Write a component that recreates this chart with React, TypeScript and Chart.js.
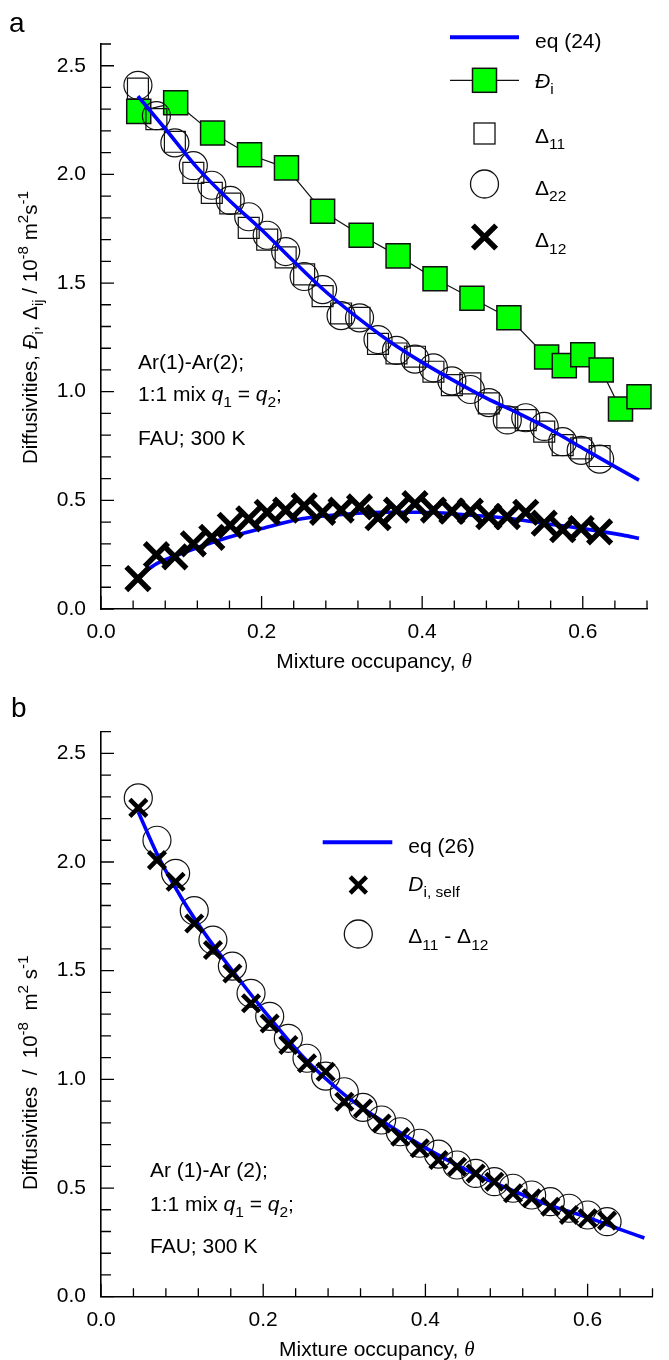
import React, { useEffect, useRef } from "react";
import { Chart, registerables } from "chart.js";

Chart.register(...registerables);

const SANS = '"Liberation Sans", Arial, Helvetica, sans-serif';
const SERIF = '"Liberation Serif", "Times New Roman", serif';
const BLUE = "#0000ff";
const GREEN = "#00ff00";
const INK = "#111111";

// ---------------- panel a ----------------
const THETA_A = [0.046, 0.069, 0.092, 0.115, 0.138, 0.161, 0.184, 0.207, 0.23, 0.253, 0.276, 0.299, 0.322, 0.345, 0.368, 0.391, 0.414, 0.437, 0.46, 0.483, 0.506, 0.529, 0.552, 0.575, 0.598, 0.621];
const DELTA11 = [2.395, 2.254, 2.15, 2.007, 1.915, 1.866, 1.754, 1.7, 1.618, 1.54, 1.44, 1.36, 1.34, 1.22, 1.176, 1.161, 1.092, 1.03, 1.038, 0.946, 0.882, 0.869, 0.816, 0.754, 0.739, 0.704];
const DELTA22 = [2.41, 2.27, 2.145, 2.04, 1.95, 1.88, 1.805, 1.72, 1.645, 1.53, 1.47, 1.35, 1.34, 1.24, 1.19, 1.15, 1.11, 1.05, 1.01, 0.95, 0.87, 0.88, 0.84, 0.77, 0.73, 0.69];
const DELTA12 = [0.14, 0.25, 0.24, 0.3, 0.33, 0.385, 0.415, 0.445, 0.455, 0.475, 0.445, 0.455, 0.47, 0.42, 0.455, 0.485, 0.455, 0.45, 0.45, 0.425, 0.425, 0.445, 0.395, 0.365, 0.37, 0.355];
const MS_THETA = [0.047, 0.093, 0.139, 0.185, 0.231, 0.276, 0.324, 0.37, 0.416, 0.462, 0.508, 0.555, 0.577, 0.6, 0.623, 0.647, 0.67];
const MS_DIFF = [2.29, 2.33, 2.19, 2.09, 2.03, 1.83, 1.72, 1.625, 1.52, 1.43, 1.34, 1.16, 1.12, 1.17, 1.1, 0.92, 0.977];
const EQ24_THETA = [0.046, 0.08, 0.12, 0.16, 0.2, 0.24, 0.28, 0.32, 0.36, 0.4, 0.44, 0.48, 0.52, 0.56, 0.6, 0.64, 0.67];
const EQ24_DII = [2.36, 2.21, 2.03, 1.88, 1.745, 1.6, 1.46, 1.34, 1.23, 1.135, 1.05, 0.97, 0.9, 0.825, 0.74, 0.655, 0.593];
const EQ24_D12_THETA = [0.047, 0.07, 0.1, 0.15, 0.2, 0.25, 0.3, 0.35, 0.4, 0.45, 0.5, 0.55, 0.6, 0.65, 0.67];
const EQ24_D12 = [0.15, 0.21, 0.255, 0.32, 0.37, 0.415, 0.435, 0.445, 0.445, 0.435, 0.42, 0.395, 0.37, 0.34, 0.325];

// ---------------- panel b ----------------
const THETA_B = [0.046, 0.069, 0.092, 0.115, 0.138, 0.162, 0.185, 0.208, 0.231, 0.254, 0.277, 0.3, 0.323, 0.346, 0.369, 0.393, 0.416, 0.439, 0.462, 0.485, 0.508, 0.531, 0.554, 0.577, 0.6, 0.624];
const DSELF = [2.249, 2.009, 1.909, 1.717, 1.595, 1.487, 1.35, 1.257, 1.158, 1.074, 1.035, 0.897, 0.866, 0.797, 0.736, 0.683, 0.629, 0.598, 0.567, 0.529, 0.476, 0.453, 0.414, 0.376, 0.361, 0.35];
const D11_MINUS_D12 = [2.295, 2.1, 1.948, 1.776, 1.641, 1.521, 1.396, 1.29, 1.189, 1.097, 1.015, 0.943, 0.871, 0.813, 0.759, 0.706, 0.656, 0.606, 0.567, 0.529, 0.499, 0.468, 0.437, 0.407, 0.376, 0.345];
const EQ26_THETA = [0.046, 0.07, 0.1, 0.13, 0.16, 0.2, 0.25, 0.3, 0.35, 0.4, 0.45, 0.5, 0.55, 0.6, 0.64, 0.67];
const EQ26_D = [2.23, 2.03, 1.83, 1.66, 1.51, 1.32, 1.1, 0.93, 0.8, 0.685, 0.585, 0.5, 0.425, 0.365, 0.31, 0.27];

// ---------------- axes ----------------
const X_LABELS = [0, 0.2, 0.4, 0.6];
const Y_LABELS = [0, 0.5, 1.0, 1.5, 2.0, 2.5];
const X_MAX = 0.68;
const Y_MAX = 2.6;

type Seg = { t: string; it?: boolean; sub?: boolean; sup?: boolean; serif?: boolean };

const pts = (xs: number[], ys: number[]) => xs.map((x, i) => ({ x, y: ys[i] }));

function drawRich(ctx: CanvasRenderingContext2D, segs: Seg[], x: number, y: number, size: number, align: "left" | "center" = "left") {
  const items = segs.map((s) => {
    const fs = s.sub || s.sup ? size * 0.74 : size;
    const font = `${s.it ? "italic " : ""}${fs}px ${s.serif ? SERIF : SANS}`;
    ctx.font = font;
    return { s, font, w: ctx.measureText(s.t).width, dy: s.sub ? size * 0.3 : s.sup ? -size * 0.42 : 0 };
  });
  const total = items.reduce((a, b) => a + b.w, 0);
  let cx = align === "center" ? x - total / 2 : x;
  ctx.textAlign = "left";
  ctx.textBaseline = "alphabetic";
  ctx.fillStyle = "#000";
  for (const it of items) {
    ctx.font = it.font;
    ctx.fillText(it.s.t, cx, y + it.dy);
    cx += it.w;
  }
}

function drawX(ctx: CanvasRenderingContext2D, x: number, y: number, r: number, w: number) {
  const o = r * Math.SQRT1_2;
  ctx.save();
  ctx.strokeStyle = "#000";
  ctx.lineWidth = w;
  ctx.beginPath();
  ctx.moveTo(x - o, y - o);
  ctx.lineTo(x + o, y + o);
  ctx.moveTo(x - o, y + o);
  ctx.lineTo(x + o, y - o);
  ctx.stroke();
  ctx.restore();
}

function drawTicks(chart: any) {
  const { ctx, chartArea } = chart;
  const xs = chart.scales.x;
  const ys = chart.scales.y;
  ctx.save();
  ctx.strokeStyle = "#000";
  ctx.lineWidth = 1.3;
  ctx.beginPath();
  for (let i = 0; i <= 17; i++) {
    const px = xs.getPixelForValue(i * 0.04);
    const len = i % 5 === 0 ? 13 : 8.5;
    ctx.moveTo(px, chartArea.bottom);
    ctx.lineTo(px, chartArea.bottom - len);
  }
  for (let i = 0; i <= 26; i++) {
    const py = ys.getPixelForValue(i * 0.1);
    const len = i % 5 === 0 ? 13 : 10;
    ctx.moveTo(chartArea.left, py);
    ctx.lineTo(chartArea.left + len, py);
  }
  ctx.stroke();
  ctx.restore();
}

const X_TITLE: Seg[] = [{ t: "Mixture occupancy, " }, { t: "θ", it: true, serif: true }];
const Y_TITLE_A: Seg[] = [
  { t: "Diffusivities, " }, { t: "Đ", it: true }, { t: "i", sub: true }, { t: ", Δ" }, { t: "ij", sub: true },
  { t: " / 10" }, { t: "-8", sup: true }, { t: " m" }, { t: "2", sup: true }, { t: "s" }, { t: "-1", sup: true },
];
const Y_TITLE_B: Seg[] = [
  { t: "Diffusivities  /  10" }, { t: "-8", sup: true }, { t: "  m" }, { t: "2", sup: true }, { t: " s" }, { t: "-1", sup: true },
];

function makeOptions(topPad: number, xAxisH: number) {
  return {
    responsive: false,
    animation: false as const,
    devicePixelRatio: 1,
    events: [] as any[],
    layout: { padding: { left: 0, right: 4, top: topPad, bottom: 0 } },
    plugins: { legend: { display: false }, tooltip: { enabled: false }, title: { display: false } },
    scales: {
      x: {
        type: "linear" as const,
        min: 0,
        max: X_MAX,
        afterBuildTicks: (s: any) => { s.ticks = X_LABELS.map((v) => ({ value: v })); },
        afterFit: (s: any) => { s.height = xAxisH; },
        ticks: {
          callback: (v: any) => Number(v).toFixed(1),
          font: { family: SANS, size: 21 },
          color: "#000",
          padding: 11,
          maxRotation: 0,
          autoSkip: false,
        },
        grid: { display: false, drawTicks: false },
        border: { display: true, color: "#000", width: 1.6 },
      },
      y: {
        type: "linear" as const,
        min: 0,
        max: Y_MAX,
        afterBuildTicks: (s: any) => { s.ticks = Y_LABELS.map((v) => ({ value: v })); },
        afterFit: (s: any) => { s.width = 101; },
        ticks: {
          callback: (v: any) => Number(v).toFixed(1),
          font: { family: SANS, size: 21 },
          color: "#000",
          padding: 15,
          autoSkip: false,
        },
        grid: { display: false, drawTicks: false },
        border: { display: true, color: "#000", width: 1.6 },
      },
    },
  };
}

const decorA = {
  id: "decorA",
  afterDraw(chart: any) {
    const ctx: CanvasRenderingContext2D = chart.ctx;
    drawTicks(chart);
    ctx.save();
    // panel letter
    ctx.fillStyle = "#000";
    ctx.font = `28px ${SANS}`;
    ctx.textBaseline = "alphabetic";
    ctx.textAlign = "left";
    ctx.fillText("a", 9, 32);
    // legend
    ctx.strokeStyle = BLUE;
    ctx.lineWidth = 4;
    ctx.beginPath(); ctx.moveTo(450, 37.3); ctx.lineTo(519, 37.3); ctx.stroke();
    drawRich(ctx, [{ t: "eq (24)" }], 535, 48, 21);
    ctx.strokeStyle = INK; ctx.lineWidth = 1.2;
    ctx.beginPath(); ctx.moveTo(450, 80.3); ctx.lineTo(519, 80.3); ctx.stroke();
    ctx.fillStyle = GREEN; ctx.fillRect(472.5, 68.3, 24, 24);
    ctx.lineWidth = 1.5; ctx.strokeRect(472.5, 68.3, 24, 24);
    drawRich(ctx, [{ t: "Đ", it: true }, { t: "i", sub: true }], 535, 87.5, 21);
    ctx.strokeStyle = INK; ctx.lineWidth = 1.3;
    ctx.strokeRect(474, 123, 21, 21);
    drawRich(ctx, [{ t: "Δ" }, { t: "11", sub: true }], 535, 142.7, 21);
    ctx.beginPath(); ctx.arc(484.5, 184, 14, 0, Math.PI * 2); ctx.stroke();
    drawRich(ctx, [{ t: "Δ" }, { t: "22", sub: true }], 535, 195, 21);
    drawX(ctx, 484.5, 237, 16.5, 5.5);
    drawRich(ctx, [{ t: "Δ" }, { t: "12", sub: true }], 535, 247.3, 21);
    // annotations
    drawRich(ctx, [{ t: "Ar(1)-Ar(2);" }], 138, 369, 21);
    drawRich(ctx, [{ t: "1:1 mix " }, { t: "q", it: true }, { t: "1", sub: true }, { t: " = " }, { t: "q", it: true }, { t: "2", sub: true }, { t: ";" }], 138, 401, 21);
    drawRich(ctx, [{ t: "FAU; 300 K" }], 138, 445, 21);
    // axis titles
    const ca = chart.chartArea;
    drawRich(ctx, X_TITLE, (ca.left + ca.right) / 2, 668, 21, "center");
    ctx.save();
    ctx.translate(37, 464);
    ctx.rotate(-Math.PI / 2);
    drawRich(ctx, Y_TITLE_A, 0, 0, 20.5, "left");
    ctx.restore();
    ctx.restore();
  },
};

const decorB = {
  id: "decorB",
  afterDraw(chart: any) {
    const ctx: CanvasRenderingContext2D = chart.ctx;
    drawTicks(chart);
    ctx.save();
    ctx.fillStyle = "#000";
    ctx.font = `28px ${SANS}`;
    ctx.textBaseline = "alphabetic";
    ctx.textAlign = "left";
    ctx.fillText("b", 11, 37);
    // legend
    ctx.strokeStyle = BLUE;
    ctx.lineWidth = 4;
    ctx.beginPath(); ctx.moveTo(322.7, 162.3); ctx.lineTo(392.3, 162.3); ctx.stroke();
    drawRich(ctx, [{ t: "eq (26)" }], 408.3, 173.3, 21);
    drawX(ctx, 358.3, 205, 11.5, 4.5);
    drawRich(ctx, [{ t: "D", it: true }, { t: "i, self", sub: true }], 408.3, 210.7, 21);
    ctx.strokeStyle = INK; ctx.lineWidth = 1.3;
    ctx.beginPath(); ctx.arc(358.3, 254, 14, 0, Math.PI * 2); ctx.stroke();
    drawRich(ctx, [{ t: "Δ" }, { t: "11", sub: true }, { t: " - Δ" }, { t: "12", sub: true }], 408.3, 263.3, 21);
    // annotations
    drawRich(ctx, [{ t: "Ar (1)-Ar (2);" }], 150, 496.7, 21);
    drawRich(ctx, [{ t: "1:1 mix " }, { t: "q", it: true }, { t: "1", sub: true }, { t: " = " }, { t: "q", it: true }, { t: "2", sub: true }, { t: ";" }], 150, 531, 21);
    drawRich(ctx, [{ t: "FAU; 300 K" }], 150, 572.7, 21);
    const ca = chart.chartArea;
    drawRich(ctx, X_TITLE, (ca.left + ca.right) / 2, 676, 21, "center");
    ctx.save();
    ctx.translate(37, 510);
    ctx.rotate(-Math.PI / 2);
    drawRich(ctx, Y_TITLE_B, 0, 0, 20.5, "left");
    ctx.restore();
    ctx.restore();
  },
};

function configA(): any {
  return {
    type: "line",
    data: {
      datasets: [
        {
          label: "Δ12",
          data: pts(THETA_A, DELTA12),
          showLine: false,
          pointStyle: "crossRot",
          pointRadius: 16.5,
          pointBorderWidth: 5.5,
          pointBorderColor: "#000",
          pointBackgroundColor: "#000",
          order: 1,
          clip: false,
        },
        {
          label: "eq (24) Δ12",
          data: pts(EQ24_D12_THETA, EQ24_D12),
          borderColor: BLUE,
          borderWidth: 3.6,
          pointRadius: 0,
          cubicInterpolationMode: "monotone",
          fill: false,
          order: 2,
          clip: false,
        },
        {
          label: "eq (24)",
          data: pts(EQ24_THETA, EQ24_DII),
          borderColor: BLUE,
          borderWidth: 3.6,
          pointRadius: 0,
          cubicInterpolationMode: "monotone",
          fill: false,
          order: 2,
          clip: false,
        },
        {
          label: "Δ22",
          data: pts(THETA_A, DELTA22),
          showLine: false,
          pointStyle: "circle",
          pointRadius: 14,
          pointBorderWidth: 1.2,
          pointBorderColor: INK,
          pointBackgroundColor: "rgba(0,0,0,0)",
          order: 3,
          clip: false,
        },
        {
          label: "Δ11",
          data: pts(THETA_A, DELTA11),
          showLine: false,
          pointStyle: "rect",
          pointRadius: 14.8,
          pointBorderWidth: 1.2,
          pointBorderColor: INK,
          pointBackgroundColor: "rgba(0,0,0,0)",
          order: 4,
          clip: false,
        },
        {
          label: "Đi",
          data: pts(MS_THETA, MS_DIFF),
          borderColor: INK,
          borderWidth: 1.2,
          tension: 0,
          pointStyle: "rect",
          pointRadius: 17,
          pointBorderWidth: 1.5,
          pointBorderColor: INK,
          pointBackgroundColor: GREEN,
          fill: false,
          order: 5,
          clip: false,
        },
      ],
    },
    options: makeOptions(44, 71),
    plugins: [decorA],
  };
}

function configB(): any {
  return {
    type: "line",
    data: {
      datasets: [
        {
          label: "Di,self",
          data: pts(THETA_B, DSELF),
          showLine: false,
          pointStyle: "crossRot",
          pointRadius: 12,
          pointBorderWidth: 4.5,
          pointBorderColor: "#000",
          pointBackgroundColor: "#000",
          order: 1,
          clip: false,
        },
        {
          label: "eq (26)",
          data: pts(EQ26_THETA, EQ26_D),
          borderColor: BLUE,
          borderWidth: 3.6,
          pointRadius: 0,
          cubicInterpolationMode: "monotone",
          fill: false,
          order: 2,
          clip: false,
        },
        {
          label: "Δ11 - Δ12",
          data: pts(THETA_B, D11_MINUS_D12),
          showLine: false,
          pointStyle: "circle",
          pointRadius: 14,
          pointBorderWidth: 1.2,
          pointBorderColor: INK,
          pointBackgroundColor: "rgba(0,0,0,0)",
          order: 3,
          clip: false,
        },
      ],
    },
    options: makeOptions(51.6, 63.3),
    plugins: [decorB],
  };
}

export default function App() {
  const refA = useRef<HTMLCanvasElement>(null);
  const refB = useRef<HTMLCanvasElement>(null);
  useEffect(() => {
    const a = new Chart(refA.current as HTMLCanvasElement, configA());
    const b = new Chart(refB.current as HTMLCanvasElement, configB());
    return () => {
      a.destroy();
      b.destroy();
    };
  }, []);
  return (
    <div style={{ position: "absolute", left: 0, top: 0, width: 669, height: 1360, background: "#fff" }}>
      <canvas ref={refA} width={669} height={680} style={{ display: "block", width: 669, height: 680 }} />
      <canvas ref={refB} width={669} height={680} style={{ display: "block", width: 669, height: 680 }} />
    </div>
  );
}
